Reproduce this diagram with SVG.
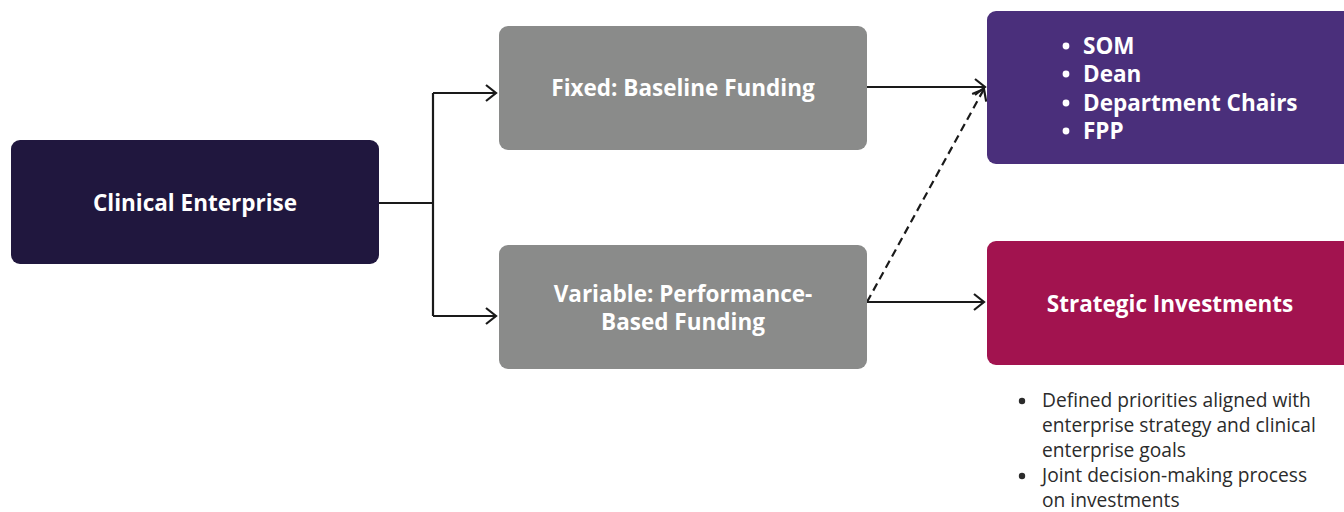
<svg xmlns="http://www.w3.org/2000/svg" width="1344" height="512" viewBox="0 0 1344 512">
<defs>
<marker id="arr" markerWidth="16" markerHeight="20" refX="13" refY="10" orient="auto" markerUnits="userSpaceOnUse">
<path d="M3,2 L13,10 L3,18" fill="none" stroke="#1a1a1a" stroke-width="2.2"/>
</marker>
</defs>
<style>
.box{stroke:none}
.lbl{font-family:"Open Sans","Noto Sans",sans-serif;font-weight:700;font-size:22.5px;fill:#ffffff;text-anchor:middle}
.blt{font-family:"Open Sans","Noto Sans",sans-serif;font-weight:700;font-size:22.5px;fill:#ffffff}
.note{font-family:"Open Sans","Noto Sans",sans-serif;font-size:19.2px;fill:#2b2b2b}
.ln{fill:none;stroke:#1a1a1a;stroke-width:2.2}
</style>
<rect width="1344" height="512" fill="#ffffff"/>
<g id="connectors">
<path class="ln" d="M379,203 H433 M433,93 V316"/>
<path class="ln" d="M433,93 H496" marker-end="url(#arr)"/>
<path class="ln" d="M433,316 H496" marker-end="url(#arr)"/>
<path class="ln" d="M867,87 H985" marker-end="url(#arr)"/>
<path class="ln" d="M867,302 H984" marker-end="url(#arr)"/>
<path class="ln" d="M867,302 L984,89" stroke-dasharray="8,5" marker-end="url(#arr)"/>
</g>
<g id="clinical">
<rect class="box" x="11" y="140" width="368" height="124" rx="9" fill="#20173e"/>
<text class="lbl" x="195" y="211">Clinical Enterprise</text>
</g>
<g id="fixed">
<rect class="box" x="499" y="26" width="368" height="124" rx="9" fill="#8a8b8a"/>
<text class="lbl" x="683" y="96">Fixed: Baseline Funding</text>
</g>
<g id="variable">
<rect class="box" x="499" y="245" width="368" height="124" rx="9" fill="#8a8b8a"/>
<text class="lbl" x="683" y="302">Variable: Performance-</text>
<text class="lbl" x="683" y="330">Based Funding</text>
</g>
<g id="stakeholders">
<rect class="box" x="987" y="11" width="370" height="153" rx="9" fill="#4a2f7b"/>
<circle cx="1066" cy="46" r="3.4" fill="#fff"/>
<circle cx="1066" cy="74" r="3.4" fill="#fff"/>
<circle cx="1066" cy="103" r="3.4" fill="#fff"/>
<circle cx="1066" cy="131" r="3.4" fill="#fff"/>
<text class="blt" x="1083" y="54">SOM</text>
<text class="blt" x="1083" y="82">Dean</text>
<text class="blt" x="1083" y="111">Department Chairs</text>
<text class="blt" x="1083" y="139">FPP</text>
</g>
<g id="strategic">
<rect class="box" x="987" y="241" width="370" height="124" rx="9" fill="#a2134f"/>
<text class="lbl" x="1170" y="312">Strategic Investments</text>
</g>
<g id="notes">
<circle cx="1022" cy="401" r="3.2" fill="#2b2b2b"/>
<circle cx="1022" cy="476" r="3.2" fill="#2b2b2b"/>
<text class="note" x="1042" y="407">Defined priorities aligned with</text>
<text class="note" x="1042" y="432">enterprise strategy and clinical</text>
<text class="note" x="1042" y="457">enterprise goals</text>
<text class="note" x="1042" y="482">Joint decision-making process</text>
<text class="note" x="1042" y="507">on investments</text>
</g>
</svg>
